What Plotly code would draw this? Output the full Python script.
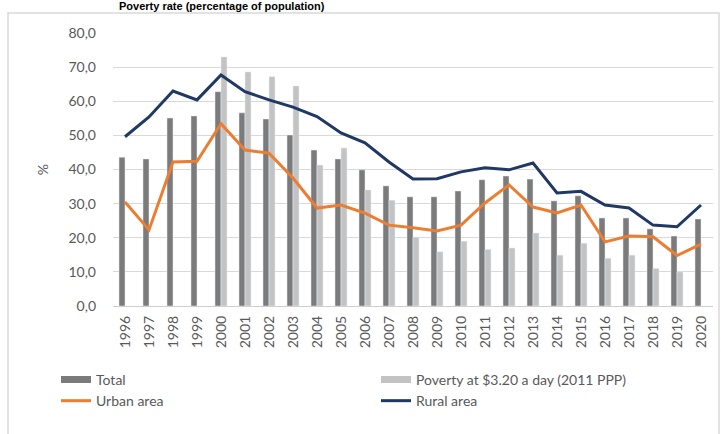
import plotly.graph_objects as go

# Years and series (percent)
years = [str(y) for y in range(1996, 2021)]

total = [43.6, 43.1, 55.1, 55.7, 62.8, 56.6, 54.8, 50.1, 45.7, 43.1,
         39.9, 35.2, 32.0, 32.0, 33.7, 37.0, 38.1, 37.2, 30.8, 32.3,
         25.8, 25.8, 22.6, 20.5, 25.5]

poverty_320 = [None, None, None, None, 73.0, 68.6, 67.2, 64.5, 41.3, 46.3,
               34.0, 31.0, 20.2, 15.9, 19.0, 16.6, 17.0, 21.4, 14.9, 18.4,
               14.0, 14.9, 11.0, 10.0, None]

urban = [30.5, 22.3, 42.2, 42.4, 53.4, 45.7, 44.8, 37.5, 28.7, 29.6,
         27.2, 23.7, 22.9, 22.0, 23.7, 30.2, 35.5, 29.0, 27.3, 29.6,
         18.8, 20.5, 20.3, 14.8, 18.1]

rural = [49.6, 55.4, 63.0, 60.4, 67.7, 62.8, 60.4, 58.3, 55.5, 50.7,
         47.8, 42.2, 37.2, 37.3, 39.3, 40.5, 39.9, 41.9, 33.1, 33.6,
         29.6, 28.7, 23.7, 23.2, 29.6]

y_ticks = [0, 10, 20, 30, 40, 50, 60, 70, 80]

TOTAL_COLOR = "#7b7b7b"
POVERTY_COLOR = "#c3c3c3"
URBAN_COLOR = "#ed7d31"
RURAL_COLOR = "#1f3864"
TEXT_COLOR = "#595959"
FONT = "Lato"

fig = go.Figure()

fig.add_trace(go.Bar(x=years, y=total, name="Total", marker_color=TOTAL_COLOR,
                     showlegend=False, legendgroup="total"))
fig.add_trace(go.Bar(x=years, y=poverty_320, name="Poverty at $3.20 a day (2011 PPP)",
                     marker_color=POVERTY_COLOR, showlegend=False, legendgroup="pov"))
fig.add_trace(go.Scatter(x=years, y=urban, name="Urban area", mode="lines",
                         line=dict(color=URBAN_COLOR, width=3), showlegend=False,
                         legendgroup="urban"))
fig.add_trace(go.Scatter(x=years, y=rural, name="Rural area", mode="lines",
                         line=dict(color=RURAL_COLOR, width=3), showlegend=False,
                         legendgroup="rural"))

# Legend entries (flat swatches for the bars, lines for the areas)
legend_items = [
    ("Total", TOTAL_COLOR, 7, "total"),
    ("Poverty at $3.20 a day (2011 PPP)", POVERTY_COLOR, 7, "pov"),
    ("Urban area", URBAN_COLOR, 3, "urban"),
    ("Rural area", RURAL_COLOR, 3, "rural"),
]
for name, color, width, group in legend_items:
    fig.add_trace(go.Scatter(x=[None], y=[None], mode="lines", name=name,
                             line=dict(color=color, width=width),
                             legendgroup=group, showlegend=True))

fig.update_layout(
    width=721, height=434,
    margin=dict(l=113, r=8, t=33, b=128),
    paper_bgcolor="white", plot_bgcolor="white",
    separators=",.",
    barmode="group", bargap=0.5, bargroupgap=0,
    font=dict(family=FONT, color=TEXT_COLOR, size=13),
    legend=dict(orientation="h", x=-0.095, xanchor="left", y=-0.212, yanchor="top",
                entrywidth=275, entrywidthmode="pixels",
                font=dict(family=FONT, size=14, color=TEXT_COLOR),
                traceorder="normal", tracegroupgap=0, itemclick=False),
    xaxis=dict(type="category", tickangle=-90, showgrid=False, showline=False,
               ticks="", ticklabelstandoff=6,
               tickfont=dict(family=FONT, size=14, color=TEXT_COLOR)),
    yaxis=dict(range=[0, 80], tickvals=y_ticks, tickformat=".1f",
               showgrid=True, gridcolor="#d9d9d9", gridwidth=1,
               zeroline=True, zerolinecolor="#cfcfcf", zerolinewidth=1,
               ticklabelstandoff=16,
               tickfont=dict(family=FONT, size=14, color=TEXT_COLOR),
               title=dict(text="%", standoff=16,
                          font=dict(family=FONT, size=14, color=TEXT_COLOR))),
    shapes=[dict(type="rect", xref="paper", yref="paper",
                 x0=-0.175, x1=1.01, y0=-0.5, y1=1.0733,
                 line=dict(color="#d9d9d9", width=1.5), layer="below")],
    annotations=[dict(text="<b>Poverty rate (percentage of population)</b>",
                      xref="paper", yref="paper", x=0.182, y=1.0745,
                      xanchor="center", yanchor="bottom", showarrow=False,
                      borderpad=0,
                      font=dict(family="Liberation Sans", size=11, color="black"))],
)

fig.write_html("out.html")
